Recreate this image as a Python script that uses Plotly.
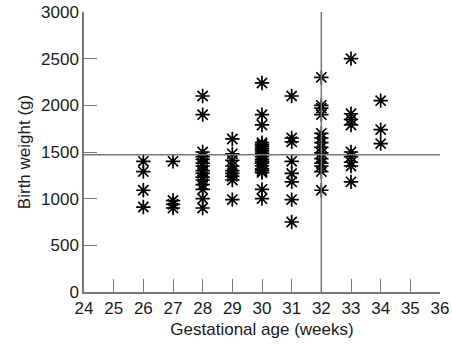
import plotly.graph_objects as go

# Birth weight (g) by gestational age (weeks)
week_26 = [1400, 1290, 1090, 910]
week_27 = [1400, 980, 940, 900]
week_28 = [2100, 1900, 1500, 1450, 1420, 1380, 1350, 1300, 1270, 1230, 1200, 1150, 1100, 1000, 900]
week_29 = [1640, 1480, 1410, 1350, 1300, 1270, 1240, 1200, 990]
week_30 = [2240, 1900, 1790, 1600, 1580, 1560, 1540, 1520, 1500, 1480, 1450, 1420,
           1400, 1380, 1350, 1320, 1300, 1280, 1100, 1000]
week_31 = [2100, 1650, 1610, 1400, 1270, 1180, 990, 750]
week_32 = [2300, 2000, 1970, 1900, 1700, 1650, 1600, 1550, 1490, 1430, 1380, 1350, 1290, 1090]
week_33 = [2500, 1910, 1850, 1790, 1500, 1450, 1390, 1350, 1180]
week_34 = [2050, 1740, 1590]

weeks = [26, 27, 28, 29, 30, 31, 32, 33, 34]
weights_by_week = [week_26, week_27, week_28, week_29, week_30, week_31, week_32, week_33, week_34]

x_ticks = list(range(24, 37))
y_ticks = [0, 500, 1000, 1500, 2000, 2500, 3000]
mean_weight = 1470
cutoff_week = 32

xs, ys = [], []
for w, vals in zip(weeks, weights_by_week):
    for v in vals:
        xs.append(w)
        ys.append(v)

fig = go.Figure()
fig.add_trace(go.Scatter(
    x=xs, y=ys, mode="markers",
    marker=dict(symbol="asterisk-open", size=12, color="black",
                line=dict(color="black", width=1.7)),
    showlegend=False,
))

fig.add_shape(type="line", xref="x", yref="y", x0=x_ticks[0], x1=x_ticks[-1],
              y0=mean_weight, y1=mean_weight, line=dict(color="#777777", width=1.5))
fig.add_shape(type="line", xref="x", yref="y", x0=cutoff_week, x1=cutoff_week,
              y0=y_ticks[0], y1=y_ticks[-1], line=dict(color="#777777", width=1.5))

font_family = "Liberation Sans, Arial, sans-serif"

fig.update_layout(
    width=452, height=347,
    margin=dict(l=84, r=12, t=12, b=55),
    plot_bgcolor="white", paper_bgcolor="white",
    font=dict(family=font_family, size=17, color="#1a1a1a"),
    xaxis=dict(
        range=[24, 36], tickvals=x_ticks, ticktext=[str(t) for t in x_ticks],
        showgrid=False, zeroline=False, showline=True, linecolor="#777777", linewidth=1.5,
        ticks="inside", ticklen=13, tickcolor="#777777", tickwidth=1.2,
        title=dict(text="Gestational age (weeks)", font=dict(size=17), standoff=6),
        tickfont=dict(size=17), automargin=False, ticklabeloverflow="allow",
    ),
    yaxis=dict(
        range=[0, 3000], tickvals=y_ticks,
        showgrid=False, zeroline=False, showline=True, linecolor="#777777", linewidth=1.5,
        ticks="inside", ticklen=13, tickcolor="#777777", tickwidth=1.2,
        title=dict(text="Birth weight (g)", font=dict(size=17), standoff=6),
        tickfont=dict(size=17), automargin=False, ticklabeloverflow="allow",
    ),
)

# remove the browser's default 8px body margin so the figure fills the window exactly
fig.write_html("out.html", config={"displayModeBar": False},
               post_script="document.body.style.margin='0';")
